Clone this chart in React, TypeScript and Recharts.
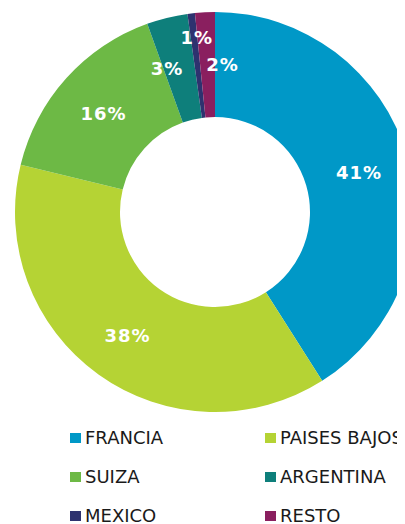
import { PieChart, Pie, Cell, Legend } from 'recharts';

const countries = ['FRANCIA', 'PAISES BAJOS', 'SUIZA', 'ARGENTINA', 'MEXICO', 'RESTO'];
const shares = [41.0, 37.8, 15.7, 3.3, 0.6, 1.6];
const colors = ['#0098C7', '#B5D334', '#6DB945', '#0E7F7B', '#2E326F', '#8A1F5F'];

const data = countries.map((name, i) => ({ name, value: shares[i] }));

const RAD = Math.PI / 180;
// small slices at the top need their labels pushed apart
const labelRadius = [150, 150, 150, 150, 178, 150];
const labelShift = [0, 0, 0, -12, 3, 15];

const renderLabel = (p: any) => {
  const r = labelRadius[p.index];
  const x = p.cx + r * Math.cos(-p.midAngle * RAD) + labelShift[p.index];
  const y = p.cy + r * Math.sin(-p.midAngle * RAD) + 2;
  return (
    <text
      x={x}
      y={y}
      fill="#fff"
      textAnchor="middle"
      dominantBaseline="central"
      fontSize={18}
      fontWeight="bold"
      letterSpacing={1}
      fontFamily="'DejaVu Sans', Verdana, sans-serif"
    >
      {`${Math.round(p.value)}%`}
    </text>
  );
};

const LegendBox = () => (
  <div
    style={{
      display: 'grid',
      gridTemplateColumns: '195px 195px',
      rowGap: 17,
      fontFamily: "'DejaVu Sans', Verdana, sans-serif",
      fontSize: 18,
      color: '#1a1a1a',
      whiteSpace: 'nowrap',
    }}
  >
    {countries.map((c, i) => (
      <div key={c} style={{ display: 'flex', alignItems: 'center', height: 22 }}>
        <span style={{ width: 11, height: 10, background: colors[i], marginRight: 4, marginTop: 2 }} />
        <span>{c}</span>
      </div>
    ))}
  </div>
);

export default function App() {
  return (
    <div style={{ width: 397, height: 516, overflow: 'hidden', position: 'relative' }}>
      <PieChart width={420} height={516} margin={{ top: 0, right: 0, bottom: 0, left: 0 }} style={{ overflow: 'visible' }}>
        <Pie
          data={data}
          dataKey="value"
          cx={207}
          cy={204}
          innerRadius={95}
          outerRadius={200}
          startAngle={90}
          endAngle={-270}
          stroke="none"
          label={renderLabel}
          labelLine={false}
          isAnimationActive={false}
        >
          {data.map((d, i) => (
            <Cell key={d.name} fill={colors[i]} />
          ))}
        </Pie>
        <Legend
          content={<LegendBox />}
          wrapperStyle={{ position: 'absolute', left: 62, top: 418, width: 400, bottom: 'auto' }}
        />
      </PieChart>
    </div>
  );
}
